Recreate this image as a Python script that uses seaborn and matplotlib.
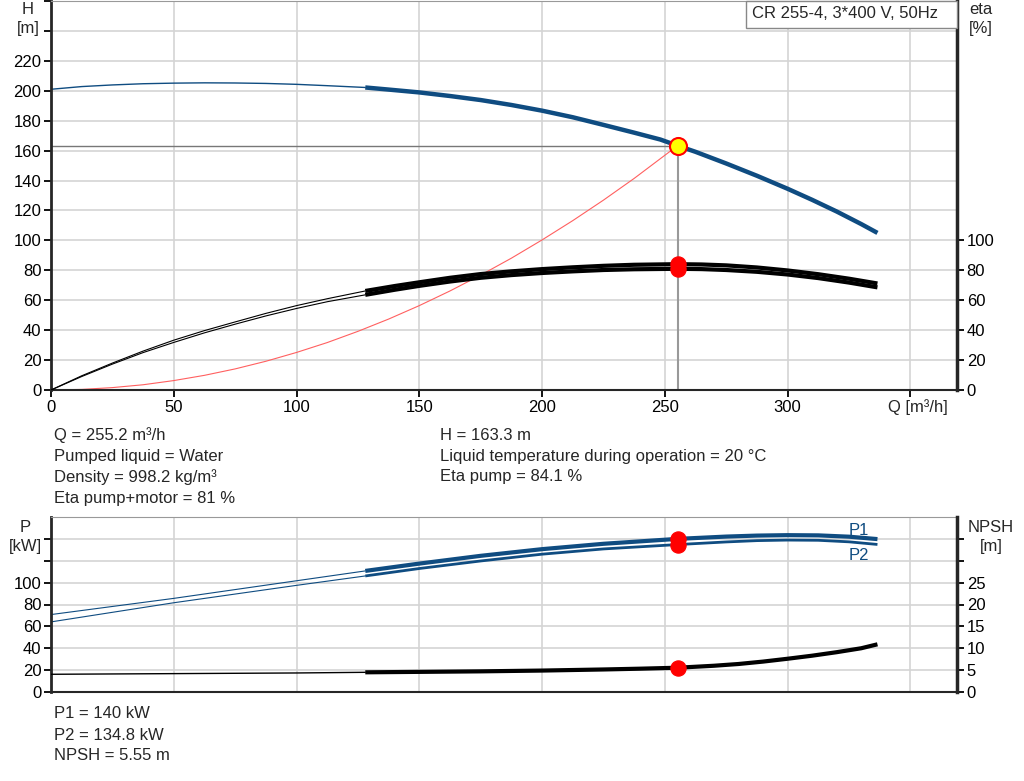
import seaborn as sns
import matplotlib.pyplot as plt
import pandas as pd
from matplotlib.patches import Rectangle

# flow points (m3/h) and values
q_h = [0, 12.5, 25, 37.5, 50, 62.5, 75, 87.5, 100, 112.5, 128, 137.5, 150, 162.5, 175,
       187.5, 200, 212.5, 225, 237.5, 248.2, 255.2, 262.5, 275, 287.5, 300, 310, 320, 330, 336.6]
h_m = [201, 202.8, 203.9, 204.7, 205.1, 205.3, 205.2, 204.9, 204.3, 203.4, 202.2, 200.8, 198.9, 196.5, 193.8,
       190.5, 186.7, 182.3, 177.2, 172.0, 167.4, 163.3, 159.2, 151.4, 143.2, 134.5, 127.1, 119.3, 110.9, 105.0]

q_eta = [0, 12.5, 25, 37.5, 50, 62.5, 75, 87.5, 100, 112.5, 128, 140, 150, 162.5, 175,
         187.5, 200, 212.5, 225, 237.5, 255.2, 265, 275, 287.5, 300, 312.5, 325, 336.6]
eta_pump = [0, 9.5, 18, 26, 33.3, 39.7, 45.5, 51.2, 56.4, 61, 66.2, 69.5, 72, 75, 77.5,
            79.3, 80.8, 82, 83, 83.7, 84.1, 83.9, 83.3, 81.9, 79.9, 77.4, 74.4, 71.2]
eta_total = [0, 9.0, 17.3, 25, 31.8, 38.2, 44, 49.5, 54.5, 59, 63.6, 67, 69.6, 72.5, 75,
             76.8, 78.2, 79.3, 80.2, 80.7, 81, 80.8, 80.2, 79, 77.2, 74.8, 71.8, 68.6]

q_sys = [0, 12.5, 25, 37.5, 50, 62.5, 75, 87.5, 100, 112.5, 125, 137.5, 150, 162.5, 175,
         187.5, 200, 212.5, 225, 237.5, 255.2]
h_sys = [0, 0.4, 1.6, 3.5, 6.3, 9.8, 14.1, 19.2, 25.1, 31.7, 39.2, 47.4, 56.4, 66.2, 76.8,
         88.1, 100.3, 113.2, 126.9, 141.4, 163.3]

q_p = [0, 50, 100, 128, 150, 175, 200, 225, 255.2, 275, 287.5, 300, 312.5, 325, 336.6]
p1 = [70.8, 85.6, 101.7, 110.7, 117.4, 124.5, 130.6, 135.5, 140, 142.1, 143.0, 143.4, 143.2, 142.0, 139.8]
p2 = [64.1, 81.6, 97.5, 106.1, 112.9, 119.8, 126, 130.8, 134.8, 137.2, 138.4, 138.9, 138.7, 137.3, 134.9]

q_npsh = [0, 50, 100, 128, 150, 175, 200, 225, 240, 255.2, 270, 280, 290, 300, 310, 320, 330, 336.6]
npsh = [4.05, 4.2, 4.35, 4.5, 4.6, 4.72, 4.9, 5.15, 5.33, 5.55, 6.0, 6.4, 6.95, 7.6, 8.3, 9.1, 10.0, 10.9]

q_op = 255.2
h_op = 163.3
eta_op = [84.1, 81]
p_op = [140, 134.8]
npsh_op = 5.55
q_min = 128

blue = "#0f4c81"
grid = "#d4d4d4"

sns.set_style("white")
plt.rcParams["font.family"] = ["Liberation Sans", "DejaVu Sans"]
plt.rcParams["font.size"] = 12

fig = plt.figure(figsize=(10.24, 7.81), dpi=100)
W, H = 1024, 781
ax1 = fig.add_axes([51 / W, 1 - 390 / H, 906 / W, 389 / H])
ax2 = fig.add_axes([51 / W, 1 - 692 / H, 906 / W, 175 / H])
ax1r = ax1.twinx()
ax2r = ax2.twinx()


def split(q, v):
    df = pd.DataFrame({"q": q, "v": v})
    return df[df.q <= q_min], df[df.q >= q_min]


def curve(ax, q, v, color, thin, thick):
    a, b = split(q, v)
    sns.lineplot(data=a, x="q", y="v", ax=ax, color=color, lw=thin, sort=False)
    sns.lineplot(data=b, x="q", y="v", ax=ax, color=color, lw=thick, sort=False,
                 solid_capstyle="butt", solid_joinstyle="round")


# top panel
curve(ax1, q_h, h_m, blue, 1.0, 3.2)
curve(ax1r, q_eta, eta_pump, "black", 0.8, 3.0)
curve(ax1r, q_eta, eta_total, "black", 0.8, 3.0)
sns.lineplot(x=q_sys, y=h_sys, ax=ax1, color="#ff6060", lw=0.8, sort=False)
ax1.plot([0, q_op], [h_op, h_op], color="#777777", lw=1.0)
ax1.plot([q_op, q_op], [0, h_op], color="#999999", lw=1.5)
sns.scatterplot(x=[q_op, q_op], y=eta_op, ax=ax1r, color="red", s=120, edgecolor="red", zorder=5)
sns.scatterplot(x=[q_op], y=[h_op], ax=ax1, color="yellow", s=150, edgecolor="red", linewidth=1.5, zorder=6)

# bottom panel
curve(ax2, q_p, p1, blue, 0.8, 3.0)
curve(ax2, q_p, p2, blue, 0.8, 2.0)
curve(ax2r, q_npsh, npsh, "black", 1.0, 3.0)
sns.scatterplot(x=[q_op, q_op], y=p_op, ax=ax2, color="red", s=120, edgecolor="red", zorder=5)
sns.scatterplot(x=[q_op], y=[npsh_op], ax=ax2r, color="red", s=120, edgecolor="red", zorder=5)
ax2.text(329, 141, "P1", color=blue, ha="center", va="bottom", fontsize=12)
ax2.text(329, 132, "P2", color=blue, ha="center", va="top", fontsize=12)

for ax in (ax1, ax1r, ax2, ax2r):
    ax.set_xlim(0, 369)
    ax.set_xlabel("")
    ax.set_ylabel("")

ax1.set_ylim(0, 260)
ax1r.set_ylim(0, 260)
ax2.set_ylim(0, 160)
ax2r.set_ylim(0, 40)

x_ticks = list(range(0, 351, 50))
ax1.set_xticks(x_ticks)
ax1.set_xticklabels([str(v) if v <= 300 else "" for v in x_ticks])
ax1.set_yticks(range(0, 261, 20))
ax1.set_yticklabels([str(v) if v <= 220 else "" for v in range(0, 261, 20)])
ax1r.set_yticks(range(0, 101, 20))
ax2.set_xticks(x_ticks)
ax2.set_xticklabels([])
ax2.set_yticks(range(0, 141, 20))
ax2.set_yticklabels([str(v) if v <= 100 else "" for v in range(0, 141, 20)])
ax2r.set_yticks(range(0, 36, 5))
ax2r.set_yticklabels([str(v) if v <= 25 else "" for v in range(0, 36, 5)])

for ax in (ax1, ax2):
    ax.grid(True, color=grid, lw=1.2)
    ax.set_axisbelow(True)
    ax.tick_params(direction="out", length=5, width=1.3, colors="black", labelsize=12, pad=2)
    ax.tick_params(axis="y", left=True)
    ax.tick_params(axis="x", bottom=True)
    ax.spines["left"].set_linewidth(2)
    ax.spines["bottom"].set_linewidth(1.5)
    ax.spines["top"].set_color("#999999")
    ax.spines["right"].set_visible(False)
for ax in (ax1r, ax2r):
    ax.tick_params(direction="out", length=5, width=1.3, colors="black", labelsize=12, pad=2, right=True)
    ax.spines["right"].set_linewidth(2.5)
    ax.spines["top"].set_visible(False)
    ax.spines["left"].set_visible(False)
    ax.spines["bottom"].set_visible(False)
ax2.tick_params(axis="x", bottom=False)

# axis captions
fig.text(28 / W, 1 - 9 / H, "H", ha="center", va="center")
fig.text(28 / W, 1 - 29 / H, "[m]", ha="center", va="center")
fig.text(981 / W, 1 - 9 / H, "eta", ha="center", va="center")
fig.text(981 / W, 1 - 29 / H, "[%]", ha="center", va="center")
fig.text(888 / W, 1 - 407 / H, "Q [m³/h]", ha="left", va="center")
fig.text(25 / W, 1 - 527 / H, "P", ha="center", va="center")
fig.text(25 / W, 1 - 546 / H, "[kW]", ha="center", va="center")
fig.text(991 / W, 1 - 527 / H, "NPSH", ha="center", va="center")
fig.text(991 / W, 1 - 547 / H, "[m]", ha="center", va="center")

# title box
fig.patches.append(Rectangle((746 / W, 1 - 28 / H), 211 / W, 27 / H, transform=fig.transFigure,
                             facecolor="white", edgecolor="#888888", lw=1, zorder=10))
fig.text(752 / W, 1 - 14 / H, "CR 255-4, 3*400 V, 50Hz", ha="left", va="center", zorder=11)

# operating point info
left_txt = ["Q = 255.2 m³/h", "Pumped liquid = Water", "Density = 998.2 kg/m³", "Eta pump+motor = 81 %"]
right_txt = ["H = 163.3 m", "Liquid temperature during operation = 20 °C", "Eta pump = 84.1 %"]
for i, t in enumerate(left_txt):
    fig.text(54 / W, 1 - (435 + 21 * i) / H, t, ha="left", va="center")
for i, t in enumerate(right_txt):
    fig.text(440 / W, 1 - (435 + 21 * i) / H, t, ha="left", va="center")
bottom_txt = ["P1 = 140 kW", "P2 = 134.8 kW", "NPSH = 5.55 m"]
for i, t in enumerate(bottom_txt):
    fig.text(54 / W, 1 - (714 + 21 * i) / H, t, ha="left", va="center")

fig.savefig("out.png", dpi=100)
